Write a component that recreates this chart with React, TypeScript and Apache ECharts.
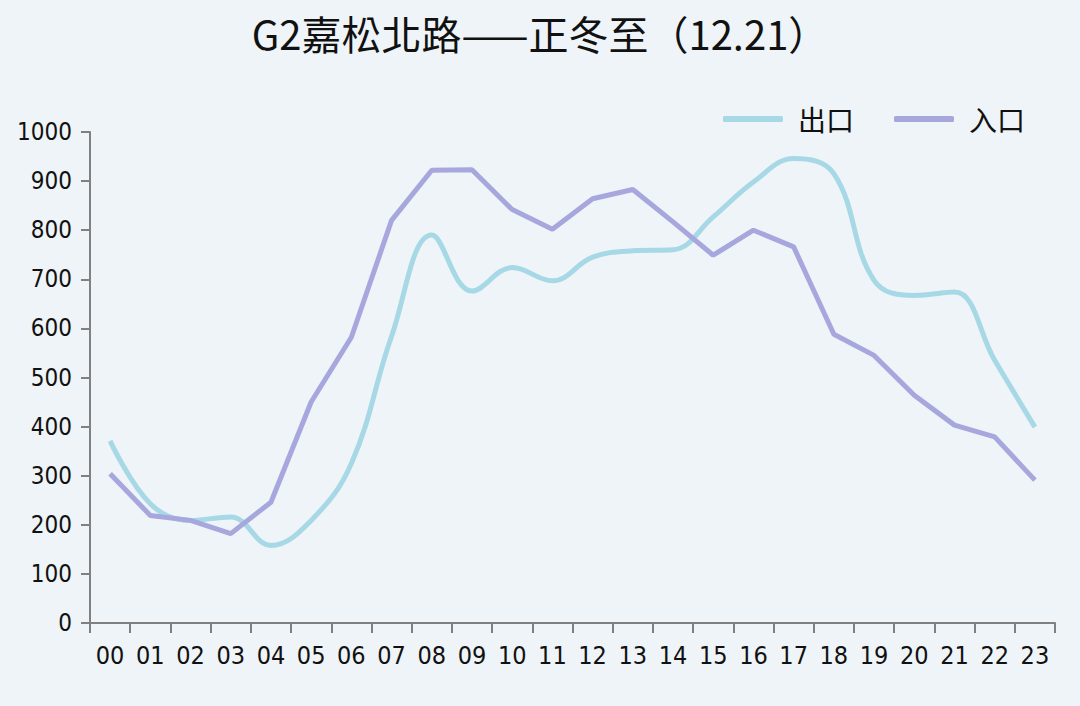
import React, { useEffect, useRef } from "react";
import * as echarts from "echarts";

const hours = ["00","01","02","03","04","05","06","07","08","09","10","11","12","13","14","15","16","17","18","19","20","21","22","23"];
const exitFlow = [371, 243, 209, 216, 158, 209, 325, 584, 790, 676, 724, 697, 745, 758, 760, 827, 898, 946, 915, 698, 667, 674, 535, 399];
const entryFlow = [304, 219, 209, 182, 246, 450, 582, 820, 922, 923, 842, 802, 864, 883, 817, 749, 800, 766, 588, 545, 464, 403, 379, 291];
const yTicks = { min: 0, max: 1000, interval: 100 };
const titleText = "G2嘉松北路——正冬至（12.21）";
const seriesNames = ["出口", "入口"];
const colors = ["#a6d8e6", "#a7a7de"];

export default function App() {
  const ref = useRef<HTMLDivElement>(null);
  useEffect(() => {
    if (!ref.current) return;
    const chart = echarts.init(ref.current, null, { renderer: "svg" });
    const labelFont = "'DejaVu Sans Condensed', 'DejaVu Sans', sans-serif";
    chart.setOption({
      animation: false,
      backgroundColor: "#eef4f7",
      title: {
        text: titleText,
        left: "center",
        top: 8,
        textStyle: {
          fontFamily: "'Noto Sans CJK TC', 'Noto Sans CJK SC', sans-serif",
          fontSize: 40,
          fontWeight: "normal",
          color: "#111",
        },
      },
      legend: {
        right: 50,
        top: 100,
        itemWidth: 60,
        itemHeight: 6,
        itemGap: 40,
        icon: "roundRect",
        textStyle: {
          fontFamily: "'Noto Sans CJK SC', sans-serif",
          fontSize: 28,
          color: "#111",
          padding: [0, 0, 0, 10],
        },
        data: seriesNames,
      },
      grid: { left: 90, right: 25, top: 132, bottom: 83 },
      xAxis: {
        type: "category",
        data: hours,
        boundaryGap: true,
        axisLine: { lineStyle: { color: "#808080", width: 2 } },
        axisTick: { show: true, length: 10, lineStyle: { color: "#808080", width: 2 } },
        axisLabel: { color: "#111", fontSize: 25, fontFamily: labelFont, margin: 20, interval: 0 },
      },
      yAxis: {
        type: "value",
        min: yTicks.min,
        max: yTicks.max,
        interval: yTicks.interval,
        splitLine: { show: false },
        axisLine: { show: true, lineStyle: { color: "#808080", width: 2 } },
        axisTick: { show: true, length: 9, lineStyle: { color: "#808080", width: 2 } },
        axisLabel: {
          color: "#111",
          fontSize: 24,
          fontFamily: labelFont,
          margin: 18,
          formatter: (v: number) => String(v),
        },
      },
      series: [
        {
          name: seriesNames[0],
          type: "line",
          data: exitFlow,
          smooth: 0.4,
          symbol: "none",
          color: colors[0],
          lineStyle: { color: colors[0], width: 5 },
        },
        {
          name: seriesNames[1],
          type: "line",
          data: entryFlow,
          smooth: false,
          symbol: "none",
          color: colors[1],
          lineStyle: { color: colors[1], width: 5 },
        },
      ],
    });
    return () => chart.dispose();
  }, []);
  return (
    <div
      ref={ref}
      style={{ position: "fixed", left: 0, top: 0, width: 1080, height: 706 }}
    />
  );
}
